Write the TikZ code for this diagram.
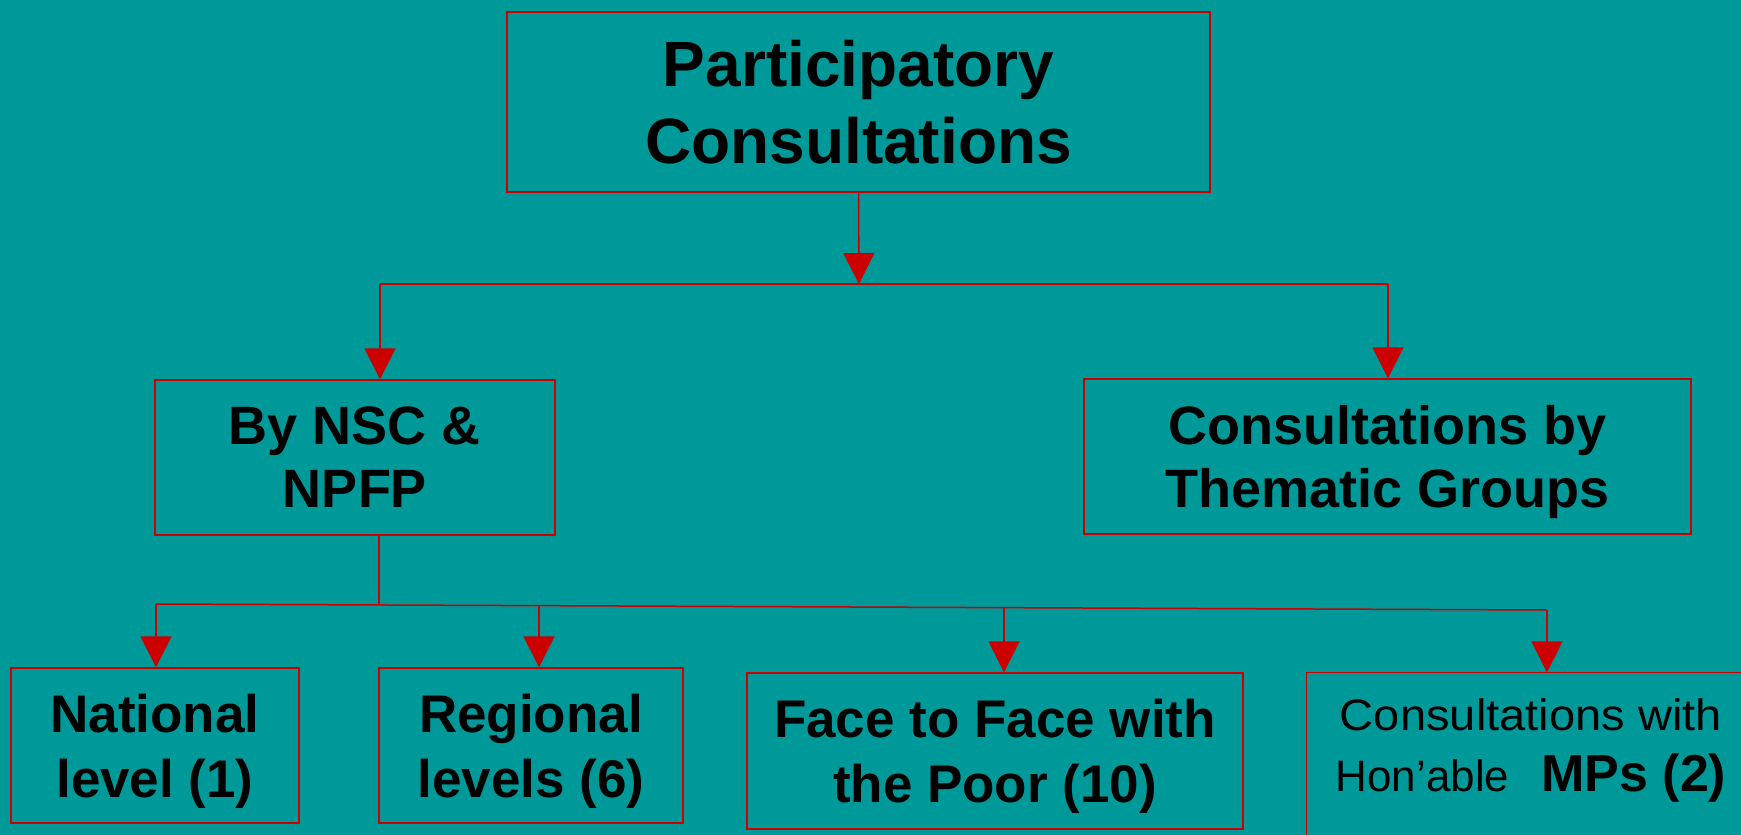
\documentclass[tikz,border=0pt]{standalone}
\usepackage{fontspec}
\setmainfont{Liberation Sans}
\newfontfamily\widefont[FakeStretch=1.07]{Liberation Sans}
\usetikzlibrary{arrows.meta}

\begin{document}
\begin{tikzpicture}[x=0.5pt, y=-0.5pt,
    box/.style={draw=linkred, line width=0.7pt, rectangle, align=center, inner sep=0pt,
        font=\bfseries\fontsize{26.5}{32.5}\selectfont},
    link/.style={draw=linkred, line width=0.75pt},
    downarrow/.style={-{Triangle[width=15.5pt,length=15.5pt]}}]
        % Farben
        \definecolor{bgteal}{RGB}{0, 153, 153}
        \definecolor{linkred}{RGB}{204, 0, 0}

        % Hintergrund
        \fill[bgteal] (0, 0) rectangle (1741, 835);
        \clip (0, 0) rectangle (1741, 835);

        % Obere Ebene
        \node[box, minimum width=351.5pt, minimum height=90pt,
            font=\bfseries\fontsize{32}{38.5}\selectfont] (top) at (858.5, 102)
            {Participatory\\Consultations};

        % Mittlere Ebene
        \node[box, minimum width=200pt, minimum height=77.5pt,
            font=\bfseries\fontsize{27}{31.5}\selectfont] (nsc) at (355, 457.5)
            {By NSC \&\\NPFP};
        \node[box, minimum width=303.5pt, minimum height=77.5pt, text depth=0pt,
            font=\bfseries\fontsize{27}{31.5}\selectfont] (thematic) at (1387.5, 456.5)
            {Consultations by\\Thematic Groups};

        % Untere Ebene
        \node[box, minimum width=144pt, minimum height=77.5pt, text depth=0pt] (national) at (155, 745.5)
            {National\\level (1)};
        \node[box, minimum width=152pt, minimum height=77.5pt, text depth=0pt] (regional) at (531, 745.5)
            {Regional\\levels (6)};
        \node[box, minimum width=248pt, minimum height=78pt, text depth=0pt] (face) at (995, 751)
            {Face to Face with\\the Poor (10)};
        \node[box, draw=none, minimum width=224pt, minimum height=77.5pt,
            font=\fontsize{22}{30.5}\selectfont] (mps) at (1531, 750.5)
            {{\widefont Consultations with}\\Hon’able\hspace{16pt}{\bfseries\fontsize{26}{30.5}\selectfont MPs (2)}};
        \draw[link, line width=0.7pt] (mps.north west) rectangle ([yshift=-10pt]mps.south east);

        % Verbindungspunkte
        \coordinate (joint) at (859, 284);
        \coordinate (busl) at (380, 284);
        \coordinate (busr) at (1388, 284);
        \coordinate (hub) at (379, 605);
        \coordinate (b1) at (156, 604);
        \coordinate (b2) at (539, 605.6);
        \coordinate (b3) at (1004, 607.7);
        \coordinate (b4) at (1547, 610);

        % Pfeile oben
        \draw[link, downarrow] (top.south) -- (joint);
        \draw[link] (busl) -- (busr);
        \draw[link, downarrow] (busl) -- (busl |- nsc.north);
        \draw[link, downarrow] (busr) -- (busr |- thematic.north);

        % Pfeile unten
        \draw[link] (nsc.south -| hub) -- (hub);
        \draw[link] (b1) -- (b4);
        \foreach \b/\n in {b1/national, b2/regional, b3/face, b4/mps}
            \draw[link, downarrow] (\b) -- (\b |- \n.north);
    \end{tikzpicture}
\end{document}
